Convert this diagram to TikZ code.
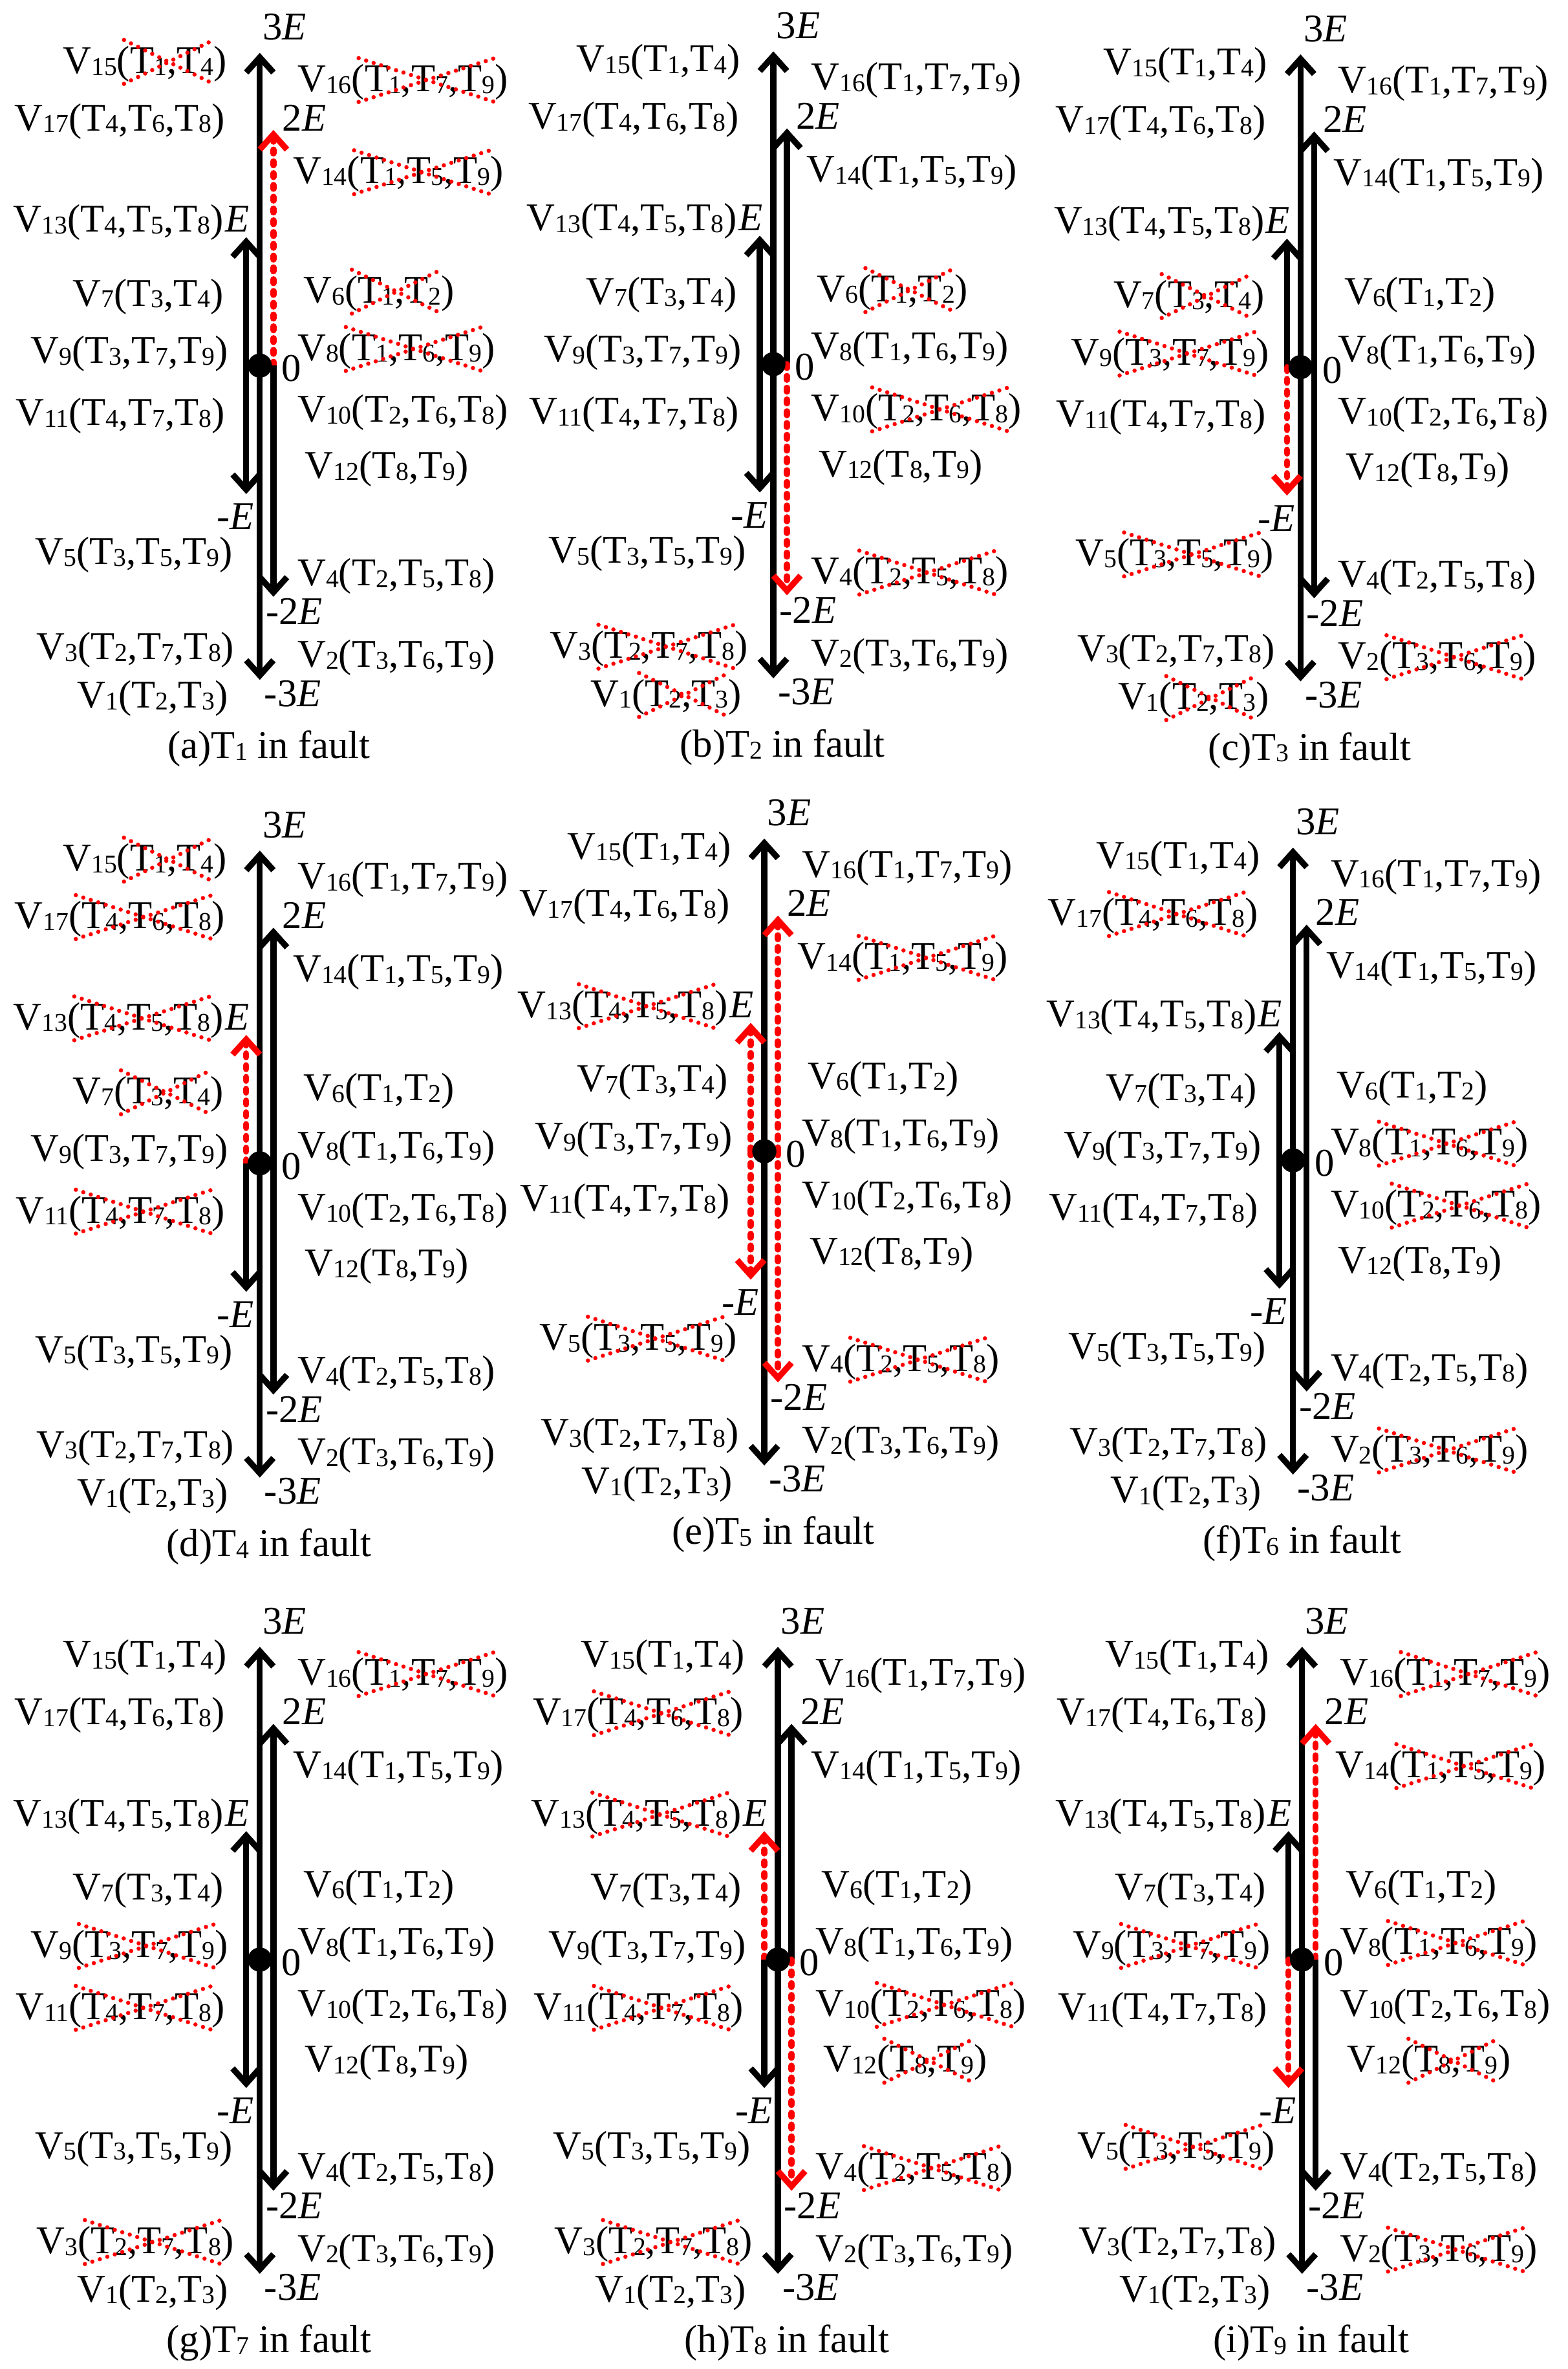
\documentclass[tikz,border=0pt]{standalone}
\usepackage{fontspec}
\setmainfont{Liberation Serif}
\usetikzlibrary{arrows.meta}
\newcommand\sbs[1]{\raisebox{-0.6pt}{\fontsize{8.5}{9}\selectfont #1}}
\newcommand\Tn[1]{T\sbs{#1}}
\tikzset{
  chev/.tip={Straight Barb[length=5pt,width=9pt]},
  lbl/.style={inner sep=0pt,outer sep=0pt,font=\fontsize{13}{15}\selectfont},
  blk/.style={line width=2pt,black,-{chev}},
  rdash/.style={line width=2pt,red,dash pattern=on 1.3pt off 2.6pt,line cap=round,-{chev[line cap=butt]}},
  xmk/.style={red,line width=1.4pt,dash pattern=on 0pt off 2.6pt,line cap=round},
  zdot/.style={circle,fill=black,inner sep=0pt,minimum size=8pt}
}
\newcommand\SetX[2]{\foreach \kk in {#2}{\expandafter\gdef\csname X#1-\kk\endcsname{}}}
\newcommand\Xcheck[1]{\ifcsname X\pid-#1\endcsname
  \draw[xmk] ([xshift=-2pt,yshift=2.5pt]\pid v#1b.north west) -- ([xshift=0pt,yshift=-1.5pt]\pid v#1b.south east);
  \draw[xmk] ([xshift=-2pt,yshift=-1.5pt]\pid v#1b.south west) -- ([xshift=0pt,yshift=2.5pt]\pid v#1b.north east);
 \fi}
% left label (anchored at its right end)
\newcommand\LL[4]{%
  \node[lbl,anchor=base east] (\pid v#1c) at (#3,#4) {)};
  \node[lbl,anchor=base east] (\pid v#1b) at (\pid v#1c.base west) {#2};
  \node[lbl,anchor=base east] (\pid v#1a) at (\pid v#1b.base west) {V\sbs{#1}(};
  \Xcheck{#1}}
% right label (anchored at its left end)
\newcommand\RL[4]{%
  \node[lbl,anchor=base west] (\pid v#1a) at (#3,#4) {V\sbs{#1}(};
  \node[lbl,anchor=base west] (\pid v#1b) at (\pid v#1a.base east) {#2};
  \node[lbl,anchor=base west] (\pid v#1c) at (\pid v#1b.base east) {)};
  \Xcheck{#1}}
% #1 id, #2 x, #3 y, #4 letter, #5 T index, #6 left-up red, #7 left-down red, #8 right-up red, #9 right-down red
\newcommand\Panel[9]{%
 \def\pid{#1}%
 \begin{scope}[shift={(#2,#3)}]
  \coordinate (#1o) at (0,0);
  \coordinate (#1p3) at (0,-207);
  \coordinate (#1m3) at (0,208);
  \coordinate (#1l0) at (-9,0);
  \coordinate (#1lp) at (-9,-85);
  \coordinate (#1lm) at (-9,85);
  \coordinate (#1r0) at (9,0);
  \coordinate (#1rp) at (9,-156);
  \coordinate (#1rm) at (9,153);
  \draw[blk] (#1o) -- (#1p3);
  \draw[blk] (#1o) -- (#1m3);
  \ifnum#6=1 \draw[rdash] (#1l0) -- (#1lp); \else \draw[blk] (#1l0) -- (#1lp); \fi
  \ifnum#7=1 \draw[rdash] (#1l0) -- (#1lm); \else \draw[blk] (#1l0) -- (#1lm); \fi
  \ifnum#8=1 \draw[rdash] (#1r0) -- (#1rp); \else \draw[blk] (#1r0) -- (#1rp); \fi
  \ifnum#9=1 \draw[rdash] (#1r0) -- (#1rm); \else \draw[blk] (#1r0) -- (#1rm); \fi
  \node[zdot] (#1dot) at (#1o) {};
  % level labels
  \node[lbl,anchor=base west] (#1t3) at (2,-215.5) {3\textit{E}};
  \node[lbl,anchor=base west] (#1t2) at (15,-155.5) {2\textit{E}};
  \node[lbl,anchor=base west] (#1t1) at (-23,-88.5) {\textit{E}};
  \node[lbl,anchor=base] (#1t0) at (21,10.5) {0};
  \node[lbl,anchor=base] (#1tm1) at (-16,108.5) {-\textit{E}};
  \node[lbl,anchor=base west] (#1tm2) at (4,171.5) {-2\textit{E}};
  \node[lbl,anchor=base west] (#1tm3) at (3,225.5) {-3\textit{E}};
  % left labels
  \LL{15}{\Tn1,\Tn4}{-22}{-193.5}
  \LL{17}{\Tn4,\Tn6,\Tn8}{-23}{-155.5}
  \LL{13}{\Tn4,\Tn5,\Tn8}{-24}{-88.5}
  \LL{7}{\Tn3,\Tn4}{-24}{-39.5}
  \LL{9}{\Tn3,\Tn7,\Tn9}{-21}{-1.5}
  \LL{11}{\Tn4,\Tn7,\Tn8}{-23}{39.5}
  \LL{5}{\Tn3,\Tn5,\Tn9}{-18}{131.5}
  \LL{3}{\Tn2,\Tn7,\Tn8}{-17}{194.5}
  \LL{1}{\Tn2,\Tn3}{-21}{226.5}
  % right labels
  \RL{16}{\Tn1,\Tn7,\Tn9}{25}{-181.5}
  \RL{14}{\Tn1,\Tn5,\Tn9}{22}{-120.5}
  \RL{6}{\Tn1,\Tn2}{29}{-41.5}
  \RL{8}{\Tn1,\Tn6,\Tn9}{25}{-3.5}
  \RL{10}{\Tn2,\Tn6,\Tn8}{25}{37.5}
  \RL{12}{\Tn8,\Tn9}{30}{74.5}
  \RL{4}{\Tn2,\Tn5,\Tn8}{25}{145.5}
  \RL{2}{\Tn3,\Tn6,\Tn9}{25}{199.5}
  \node[lbl,anchor=base] (#1cap) at (6,260) {(#4)T\sbs{#5} in fault};
 \end{scope}}

\begin{document}
\begin{tikzpicture}[x=0.5pt,y=-0.5pt]
\useasboundingbox (0,0) rectangle (1038,1568);
\SetX{a}{15,16,14,6,8}
\SetX{b}{6,10,4,3,1}
\SetX{c}{7,9,5,2,1}
\SetX{d}{15,17,13,7,11}
\SetX{e}{14,13,4,5}
\SetX{f}{17,8,10,2}
\SetX{g}{16,9,11,3}
\SetX{h}{17,13,11,10,12,4,3}
\SetX{i}{16,14,9,8,12,5,2}
\Panel{a}{172}{242}{a}{1}{0}{0}{1}{0}
\Panel{b}{512}{241}{b}{2}{0}{0}{0}{1}
\Panel{c}{861}{243}{c}{3}{0}{1}{0}{0}
\Panel{d}{172}{770}{d}{4}{1}{0}{0}{0}
\Panel{e}{506}{762}{e}{5}{1}{1}{1}{1}
\Panel{f}{856}{768}{f}{6}{0}{0}{0}{0}
\Panel{g}{172}{1297}{g}{7}{0}{0}{0}{0}
\Panel{h}{515}{1297}{h}{8}{1}{0}{0}{1}
\Panel{i}{862}{1297}{i}{9}{0}{1}{1}{0}
\end{tikzpicture}
\end{document}
